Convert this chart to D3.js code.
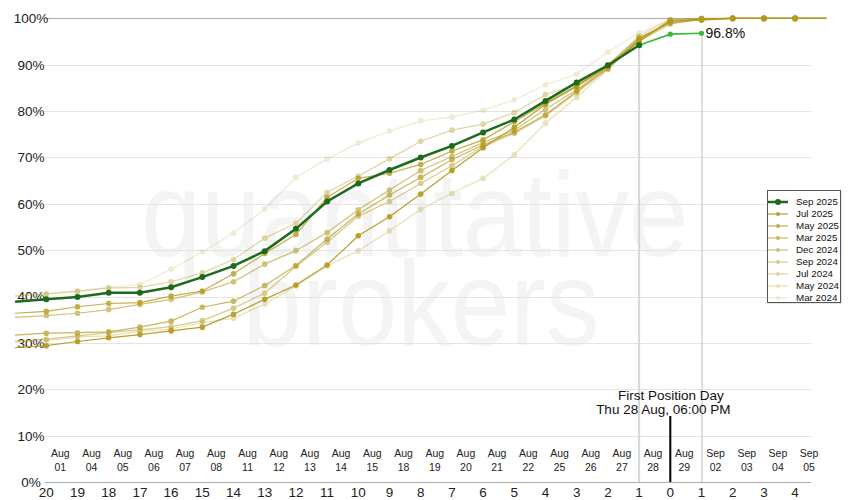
<!DOCTYPE html>
<html>
<head>
<meta charset="utf-8">
<script src="https://cdn.jsdelivr.net/npm/d3@7/dist/d3.min.js"></script>
<style>
  html, body { margin: 0; padding: 0; background: #fff; }
  svg { display: block; }
  .narrow { font-family: "Liberation Sans Narrow", "Arial Narrow", "Liberation Sans", Arial, sans-serif; font-stretch: condensed; }
  .reg { font-family: "Liberation Sans", Arial, Helvetica, sans-serif; }
</style>
</head>
<body>
<svg id="chart" width="850" height="500"></svg>
<script>
// ---------------- DATA ----------------
// position index: -1 (left edge, day 21) ... 25 (right edge, day -5)
const dayTickLabels = [20,19,18,17,16,15,14,13,12,11,10,9,8,7,6,5,4,3,2,1,0,1,2,3,4];
const dateLabelsTop = ["Aug","Aug","Aug","Aug","Aug","Aug","Aug","Aug","Aug","Aug","Aug","Aug","Aug","Aug","Aug","Aug","Aug","Aug","Aug","Aug","Aug","Sep","Sep","Sep","Sep"];
const dateLabelsBottom = ["01","04","05","06","07","08","11","12","13","14","15","18","19","20","21","22","25","26","27","28","29","02","03","04","05"];
const yTicks = [0,10,20,30,40,50,60,70,80,90,100];

const seriesNames = ["Sep 2025","Jul 2025","May 2025","Mar 2025","Dec 2024","Sep 2024","Jul 2024","May 2024","Mar 2024"];

// Sep 2025 (days 21..1)
const sep2025 = [38.9,39.4,39.9,40.8,40.8,42.0,44.2,46.6,49.8,54.6,60.5,64.4,67.3,70.0,72.5,75.4,78.2,82.2,86.2,89.9,94.2];
// Sep 2025 latest (days 1, 0, -1)
const sep2025Latest = [94.2,96.6,96.8];

// days 21..-5
const jul2025 = [29.0,29.4,30.3,31.1,31.8,32.6,33.4,36.2,39.4,42.5,46.8,53.1,57.2,62.1,67.2,72.1,76.5,81.5,85.3,89.6,95.0,99.6,99.6,100,100,100,100];
const may2025 = [36.4,36.8,37.8,38.5,38.7,40.1,41.2,44.9,49.3,53.4,61.4,65.5,66.6,68.5,71.4,73.8,77.7,81.7,85.5,89.8,95.8,99.0,99.8,100,100,100,100];
const mar2025 = [31.7,32.1,32.2,32.4,33.4,34.7,37.7,39.0,42.4,46.7,52.4,57.8,61.9,65.7,69.5,72.7,75.5,79.2,84.3,89.3,95.3,99.3,99.9,100,100,100,100];
const dec2024 = [35.5,35.9,36.4,37.2,38.3,39.4,41.0,43.2,47.0,49.9,53.8,58.7,63.0,67.2,70.2,73.2,75.9,80.4,84.6,89.5,95.5,99.5,99.9,100,100,100,100];
const sep2024 = [30.4,30.8,31.5,32.2,32.8,33.5,34.8,37.5,40.7,46.5,51.7,57.3,60.5,64.4,68.2,72.4,75.2,79.0,84.0,89.1,95.1,98.8,99.8,100,100,100,100];
const jul2024 = [40.1,40.5,41.1,41.8,42.0,43.2,45.1,48.0,52.6,55.8,62.5,66.0,69.7,73.5,75.9,77.2,79.7,83.6,85.8,90.0,96.2,99.7,100,100,100,100,100];
const may2024 = [30.1,30.5,31.3,31.5,32.5,33.0,34.4,35.3,38.4,42.3,46.6,49.9,54.2,58.8,62.3,65.5,70.6,77.4,83.0,89.0,95.5,99.2,99.9,100,100,100,100];
const mar2024 = [40.3,40.7,41.3,42.0,42.6,45.9,49.6,53.7,58.9,65.7,69.7,73.1,75.7,77.9,78.7,80.2,82.4,85.7,88.0,92.7,96.9,99.8,100,100,100,100,100];

const goldSeries = [jul2025, may2025, mar2025, dec2024, sep2024, jul2024, may2024, mar2024];
const goldOpacity = [0.92, 0.8, 0.7, 0.6, 0.5, 0.4, 0.3, 0.2];

// ---------------- CHART ----------------
const svg = d3.select("#chart");
const x = d3.scaleLinear().domain([-1, 25]).range([15.1, 826.3]);
const y = d3.scaleLinear().domain([0, 100]).range([482, 18.4]);

const gold = "#b39a1c";
const darkGreen = "#1d6a1d";
const lightGreen = "#3cb93c";

// watermark
const wm = svg.append("g").attr("class", "reg").attr("fill", "#f4f4f4");
wm.append("text").attr("transform", "translate(415,256) scale(1,1.13)")
  .attr("text-anchor", "middle").attr("font-size", 107).text("quantitative");
wm.append("text").attr("transform", "translate(421,345) scale(1,1.13)")
  .attr("text-anchor", "middle").attr("font-size", 107).text("brokers");

// gridlines
svg.append("g").selectAll("line").data(yTicks).join("line")
  .attr("x1", 45).attr("x2", 811)
  .attr("y1", d => Math.round(y(d)) + 0.5).attr("y2", d => Math.round(y(d)) + 0.5)
  .attr("stroke", d => (d === 0 || d === 100) ? "#aaaaaa" : "#e4e4e4")
  .attr("stroke-width", 1);

// y labels
svg.append("g").attr("class", "reg").selectAll("text").data(yTicks).join("text")
  .attr("x", 31).attr("y", d => y(d)).attr("dy", "0.36em")
  .attr("text-anchor", "middle").attr("font-size", 13.5).attr("fill", "#222")
  .text(d => d + "%");

// vertical reference lines
svg.append("line").attr("x1", x(19)).attr("x2", x(19))
  .attr("y1", y(sep2025[sep2025.length - 1])).attr("y2", y(0))
  .attr("stroke", "#d6d6d6").attr("stroke-width", 2);
svg.append("line").attr("x1", x(21) + 0.5).attr("x2", x(21) + 0.5)
  .attr("y1", y(sep2025Latest[2])).attr("y2", y(0))
  .attr("stroke", "#bdbdbd").attr("stroke-width", 1);

// date labels
const dl = svg.append("g").attr("class", "narrow").attr("font-size", 10.5).attr("fill", "#222").attr("text-anchor", "middle");
dl.selectAll("text.t").data(dateLabelsTop).join("text").attr("class", "t")
  .attr("x", (d, i) => x(i + 0.45)).attr("y", 457).text(d => d);
dl.selectAll("text.b").data(dateLabelsBottom).join("text").attr("class", "b")
  .attr("x", (d, i) => x(i + 0.45)).attr("y", 470.5).text(d => d);

// day numbers
svg.append("g").attr("class", "narrow").attr("font-size", 13.5).attr("fill", "#222").attr("text-anchor", "middle")
  .selectAll("text").data(dayTickLabels).join("text")
  .attr("x", (d, i) => x(i)).attr("y", 497).text(d => d);

// First position day marker
svg.append("line").attr("x1", x(20)).attr("x2", x(20)).attr("y1", 416).attr("y2", y(0))
  .attr("stroke", "#000").attr("stroke-width", 2);
const fpd = svg.append("g").attr("class", "reg").attr("font-size", 13.5).attr("fill", "#111").attr("text-anchor", "middle");
fpd.append("text").attr("x", x(20) + 0.5).attr("y", 400).text("First Position Day");
fpd.append("text").attr("x", x(20) - 7).attr("y", 414).text("Thu 28 Aug, 06:00 PM");

// series
const line = d3.line().x((d, i) => x(i - 1)).y(d => y(d));
const gs = svg.append("g");
for (let s = goldSeries.length - 1; s >= 0; s--) {
  const data = goldSeries[s];
  const g = gs.append("g").attr("opacity", goldOpacity[s]);
  g.append("path").datum(data).attr("d", line)
    .attr("fill", "none").attr("stroke", gold).attr("stroke-width", 1.2);
  g.selectAll("circle").data(data.map((v, i) => ({v, i})).filter(d => d.i >= 1 && d.i <= 25))
    .join("circle").attr("cx", d => x(d.i - 1)).attr("cy", d => y(d.v)).attr("r", 2.8)
    .attr("fill", gold);
}

// Sep 2025 latest segment
const latestLine = d3.line().x((d, i) => x(19 + i)).y(d => y(d));
svg.append("path").datum(sep2025Latest).attr("d", latestLine)
  .attr("fill", "none").attr("stroke", lightGreen).attr("stroke-width", 1.6);
svg.append("g").selectAll("circle").data(sep2025Latest.slice(1)).join("circle")
  .attr("cx", (d, i) => x(20 + i)).attr("cy", d => y(d)).attr("r", 2.6).attr("fill", lightGreen);

// Sep 2025 main
svg.append("path").datum(sep2025).attr("d", line)
  .attr("fill", "none").attr("stroke", darkGreen).attr("stroke-width", 2.5);
svg.append("g").selectAll("circle").data(sep2025.map((v, i) => ({v, i})).filter(d => d.i >= 1))
  .join("circle").attr("cx", d => x(d.i - 1)).attr("cy", d => y(d.v)).attr("r", 3)
  .attr("fill", darkGreen);

// last value label
svg.append("text").attr("class", "reg").attr("x", x(21) + 4).attr("y", y(sep2025Latest[2])).attr("dy", "0.36em")
  .attr("font-size", 14).attr("fill", "#111").text(sep2025Latest[2].toFixed(1) + "%");

// legend
const lg = svg.append("g").attr("class", "reg");
lg.append("rect").attr("x", 768.5).attr("y", 191.5).attr("width", 73).attr("height", 112)
  .attr("fill", "#ccc");
lg.append("rect").attr("x", 767.5).attr("y", 190.5).attr("width", 73).attr("height", 112)
  .attr("fill", "#fff").attr("stroke", "#555").attr("stroke-width", 1);
seriesNames.forEach((name, i) => {
  const cy = 202 + i * 12;
  const isMain = i === 0;
  const col = isMain ? darkGreen : gold;
  const op = isMain ? 1 : goldOpacity[i - 1];
  const item = lg.append("g").attr("opacity", op);
  item.append("line").attr("x1", 768).attr("x2", 788).attr("y1", cy).attr("y2", cy)
    .attr("stroke", col).attr("stroke-width", isMain ? 2.5 : 1.2);
  item.append("circle").attr("cx", 778).attr("cy", cy).attr("r", isMain ? 3 : 2).attr("fill", col);
  lg.append("text").attr("x", 796).attr("y", cy).attr("dy", "0.35em")
    .attr("font-size", 9.8).attr("fill", "#111").text(name);
});
</script>
</body>
</html>
